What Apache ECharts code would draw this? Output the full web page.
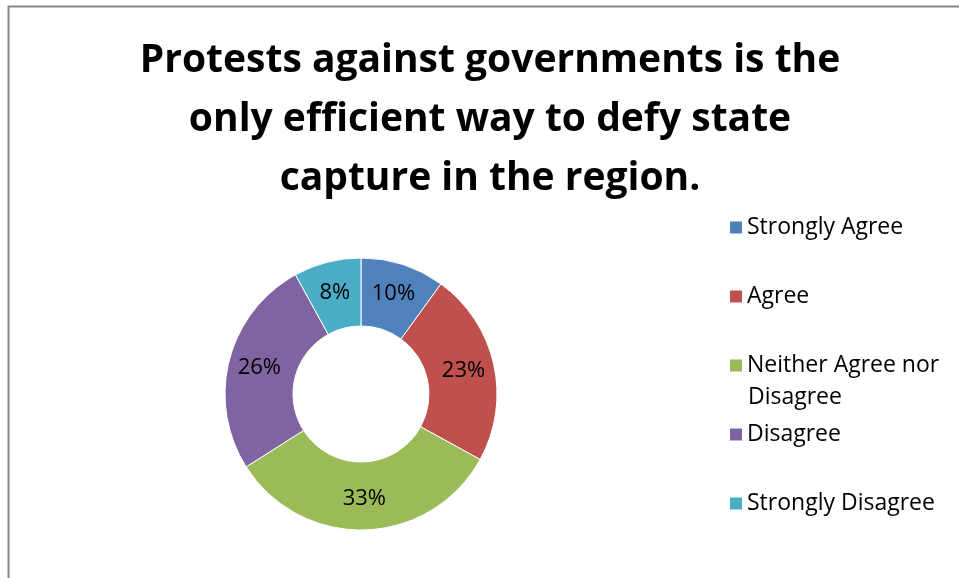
<!DOCTYPE html>
<html>
<head>
<meta charset="utf-8">
<script src="https://cdn.jsdelivr.net/npm/echarts@6/dist/echarts.min.js"></script>
<style>
  html, body { margin: 0; padding: 0; background: #fff; }
  #chart { width: 959px; height: 578px; }
</style>
</head>
<body>
<div id="chart"></div>
<script>
const titleText = 'Protests against governments is the\nonly efficient way to defy state\ncapture in the region.'
const categories = ['Strongly Agree', 'Agree', 'Neither Agree nor Disagree', 'Disagree', 'Strongly Disagree']
const shares = [10, 23, 33, 26, 8]
const sliceColors = ['#4F81BD', '#C0504D', '#9BBB59', '#8064A2', '#4BACC6']

const chart = echarts.init(document.getElementById('chart'))

// one legend per item so each sits where the reference puts it
const legendTops = [211, 280, 349, 418, 487]
const legends = categories.map((name, i) => ({
  orient: 'vertical',
  left: 723,
  top: legendTops[i],
  data: [name],
  icon: 'rect',
  itemWidth: 14,
  itemHeight: 14,
  itemGap: 0,
  selectedMode: false,
  formatter: (n) => (n === 'Neither Agree nor Disagree' ? 'Neither Agree nor' : n),
  textStyle: {
    fontFamily: 'Open Sans',
    fontSize: 23,
    color: '#000',
    padding: [0, 0, 0, -1]
  }
}))

const option = {
  backgroundColor: '#fff',
  title: {
    text: titleText,
    left: 485,
    top: 26,
    textAlign: 'center',
    textStyle: {
      fontFamily: 'Open Sans',
      fontWeight: 'bold',
      fontSize: 39,
      lineHeight: 59,
      color: '#000'
    }
  },
  legend: legends,
  graphic: [
    {
      type: 'rect',
      silent: true,
      shape: { x: 8.5, y: 6.5, width: 1000, height: 700 },
      style: { fill: 'none', stroke: '#868686', lineWidth: 2 }
    },
    {
      // second line of the wrapped legend entry
      type: 'text',
      left: 748,
      top: 386,
      silent: true,
      style: { text: 'Disagree', font: '23px "Open Sans"', fill: '#000' }
    }
  ],
  series: [
    {
      type: 'pie',
      center: [361, 394],
      radius: [68, 136],
      startAngle: 90,
      clockwise: true,
      avoidLabelOverlap: false,
      silent: true,
      itemStyle: { borderColor: '#fff', borderWidth: 1 },
      label: {
        show: true,
        position: 'inside',
        formatter: '{c}%',
        fontFamily: 'Open Sans',
        fontSize: 22,
        color: '#000'
      },
      labelLine: { show: false },
      data: categories.map((name, i) => ({
        name,
        value: shares[i],
        itemStyle: { color: sliceColors[i] }
      }))
    }
  ]
}

chart.setOption(option)
window.addEventListener('resize', () => chart.resize())
</script>
</body>
</html>
